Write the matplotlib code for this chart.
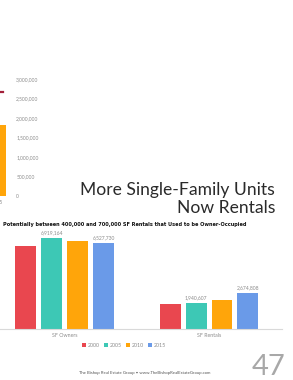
import numpy as np
import matplotlib
matplotlib.use("Agg")
import matplotlib.pyplot as plt

W, H = 293, 380

# main chart data
categories = ["SF Owners", "SF Rentals"]
years = ["2000", "2005", "2010", "2015"]
values = {
    "2000": [6280000, 1870000],
    "2005": [6919164, 1940607],
    "2010": [6650000, 2170000],
    "2015": [6527730, 2674808],
}
labelled = ["2005", "2015"]
colors = ["#E9474F", "#3DC8B5", "#FFA50A", "#6A9AE8"]

# partial chart on the left (cut off by the slide)
left_ticks = [0, 500000, 1000000, 1500000, 2000000, 2500000, 3000000]
left_bar = 1820000
left_line = 2670000
left_label = "2015"

gray = "#8C8C8C"
plt.rcParams["font.family"] = ["Lato", "DejaVu Sans"]

fig = plt.figure(figsize=(W / 100, H / 100), dpi=100)

def px_axes(x0, y0, x1, y1):
    # pixel box (top-left origin) -> figure axes
    return fig.add_axes([x0 / W, 1 - y1 / H, (x1 - x0) / W, (y1 - y0) / H])

# ---- partial left chart ----
lax = px_axes(-40, 79.3, 12, 195.7)
lax.bar([37], [left_bar], width=18, color="#FFA50A")
lax.plot([30, 43], [left_line, left_line], color="#A3203A", lw=1.6)
lax.set_xlim(0, 52)
lax.set_ylim(0, 3000000)
lax.yaxis.tick_right()
lax.set_yticks(left_ticks)
lax.set_yticklabels(["{:,}".format(v) for v in left_ticks], fontsize=3.6, color=gray)
lax.set_xticks([37])
lax.set_xticklabels([left_label], fontsize=3.8, color=gray)
lax.tick_params(length=0, pad=3)
for s in lax.spines.values():
    s.set_visible(False)

# ---- main chart ----
ax = px_axes(0, 223.3, 282, 328.5)
x = np.arange(len(categories))
unit = 144.3
offsets = np.array([-39, -13, 13, 39]) / unit
bw = 21 / unit
for i, yr in enumerate(years):
    bars = ax.bar(x + offsets[i], values[yr], width=bw, color=colors[i], label=yr)
    if yr in labelled:
        for b, v in zip(bars, values[yr]):
            ax.annotate("{:,}".format(v), (b.get_x() + b.get_width() / 2, v),
                        xytext=(0, 2), textcoords="offset points",
                        ha="center", va="bottom", fontsize=3.6, color=gray)
ax.set_xlim(-64.7 / unit, (282 - 64.7) / unit)
ax.set_ylim(0, 8000000)
ax.set_yticks([])
ax.set_xticks(x)
ax.set_xticklabels(categories, fontsize=3.8, color=gray)
ax.tick_params(length=0, pad=3)
for s in ["top", "left", "right"]:
    ax.spines[s].set_visible(False)
ax.spines["bottom"].set_color("#D9D9D9")
ax.spines["bottom"].set_linewidth(0.8)

fig.legend(loc="center", bbox_to_anchor=(124 / W, 1 - 345.5 / H), ncol=4,
           fontsize=3.8, frameon=False, handlelength=0.7, handleheight=0.7,
           handletextpad=0.3, columnspacing=0.9, labelcolor=gray)

# ---- slide text ----
fig.text(275 / W, 1 - 195 / H, "More Single-Family Units", ha="right", va="baseline",
         fontsize=12.6, fontweight="normal", color="#2A2A2A")
fig.text(275 / W, 1 - 213 / H, "Now Rentals", ha="right", va="baseline",
         fontsize=12.6, fontweight="normal", color="#2A2A2A")
fig.text(3 / W, 1 - 225 / H,
         "Potentially between 400,000 and 700,000 SF Rentals that Used to be Owner-Occupied",
         ha="left", va="center", fontsize=3.63, fontweight="bold",
         family=["DejaVu Sans"], color="#111111")
fig.text(145 / W, 1 - 372.7 / H,
         "The Bishop Real Estate Group \u2022 www.TheBishopRealEstateGroup.com",
         ha="center", va="center", fontsize=3.1, color="#555555")
fig.text(285 / W, 1 - 375 / H, "47", ha="right", va="baseline",
         fontsize=21, color="#A8A8A8")

fig.savefig("out.png", dpi=100)
